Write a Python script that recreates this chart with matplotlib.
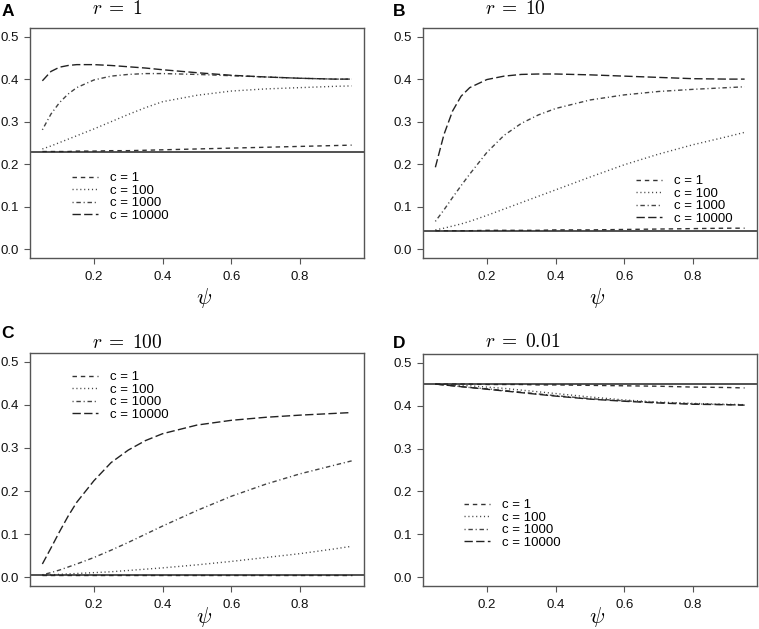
import matplotlib
matplotlib.use("Agg")
import matplotlib.pyplot as plt

plt.rcParams['font.family'] = ['Liberation Sans', 'DejaVu Sans']
plt.rcParams['mathtext.fontset'] = 'cm'

psi = [0.05, 0.075, 0.1, 0.125, 0.15, 0.2, 0.25, 0.3, 0.35, 0.4, 0.5, 0.6, 0.7, 0.8, 0.9, 0.95]
labels = ["c = 1", "c = 100", "c = 1000", "c = 10000"]

# Panel A (r = 1)
a_ref = 0.230
a_c1 = [0.230, 0.230, 0.230, 0.230, 0.231, 0.231, 0.232, 0.232, 0.233, 0.234, 0.236, 0.238, 0.240, 0.242, 0.244, 0.245]
a_c100 = [0.236, 0.243, 0.251, 0.259, 0.267, 0.283, 0.300, 0.317, 0.333, 0.347, 0.362, 0.372, 0.377, 0.380, 0.383, 0.384]
a_c1000 = [0.281, 0.318, 0.345, 0.365, 0.380, 0.398, 0.407, 0.411, 0.413, 0.413, 0.411, 0.408, 0.405, 0.402, 0.400, 0.400]
a_c10000 = [0.396, 0.418, 0.428, 0.432, 0.434, 0.434, 0.432, 0.429, 0.426, 0.422, 0.415, 0.409, 0.405, 0.402, 0.400, 0.400]

# Panel B (r = 10)
b_ref = 0.044
b_c1 = [0.044, 0.044, 0.044, 0.044, 0.044, 0.045, 0.045, 0.045, 0.045, 0.046, 0.046, 0.047, 0.048, 0.049, 0.050, 0.050]
b_c100 = [0.046, 0.050, 0.055, 0.060, 0.066, 0.080, 0.095, 0.110, 0.125, 0.140, 0.170, 0.199, 0.224, 0.246, 0.265, 0.275]
b_c1000 = [0.066, 0.093, 0.122, 0.150, 0.177, 0.228, 0.268, 0.296, 0.316, 0.331, 0.351, 0.363, 0.371, 0.376, 0.380, 0.382]
b_c10000 = [0.193, 0.270, 0.325, 0.360, 0.380, 0.399, 0.407, 0.411, 0.412, 0.412, 0.410, 0.407, 0.404, 0.401, 0.400, 0.400]

# Panel C (r = 100)
c_ref = 0.005
c_c1 = [0.005, 0.005, 0.005, 0.005, 0.005, 0.005, 0.005, 0.005, 0.005, 0.005, 0.005, 0.005, 0.005, 0.005, 0.005, 0.005]
c_c100 = [0.005, 0.006, 0.007, 0.008, 0.009, 0.011, 0.013, 0.016, 0.019, 0.022, 0.029, 0.037, 0.046, 0.055, 0.066, 0.072]
c_c1000 = [0.006, 0.011, 0.017, 0.024, 0.031, 0.046, 0.063, 0.081, 0.100, 0.119, 0.155, 0.188, 0.216, 0.240, 0.260, 0.270]
c_c10000 = [0.031, 0.068, 0.106, 0.142, 0.174, 0.224, 0.266, 0.295, 0.317, 0.333, 0.353, 0.364, 0.371, 0.376, 0.380, 0.382]

# Panel D (r = 0.01)
d_ref = 0.450
d_c1 = [0.450, 0.450, 0.450, 0.450, 0.450, 0.449, 0.449, 0.449, 0.448, 0.448, 0.447, 0.446, 0.445, 0.443, 0.442, 0.441]
d_c100 = [0.450, 0.449, 0.448, 0.447, 0.446, 0.443, 0.440, 0.436, 0.432, 0.428, 0.420, 0.413, 0.408, 0.405, 0.403, 0.402]
d_c1000 = [0.450, 0.448, 0.446, 0.444, 0.442, 0.439, 0.435, 0.431, 0.427, 0.423, 0.416, 0.411, 0.407, 0.404, 0.402, 0.401]
d_c10000 = [0.450, 0.448, 0.446, 0.444, 0.442, 0.438, 0.434, 0.430, 0.426, 0.422, 0.415, 0.410, 0.406, 0.403, 0.402, 0.401]

panels = [
    dict(letter="A", title=r"$r\;=\;1$", ref=a_ref, series=[a_c1, a_c100, a_c1000, a_c10000],
         box=(30, 28, 364, 258), leg=(72, 172), letter_xy=(2, 16), title_base=14, psi_y=298),
    dict(letter="B", title=r"$r\;=\;10$", ref=b_ref, series=[b_c1, b_c100, b_c1000, b_c10000],
         box=(423, 28, 757, 258), leg=(636, 175), letter_xy=(393, 16), title_base=14, psi_y=298),
    dict(letter="C", title=r"$r\;=\;100$", ref=c_ref, series=[c_c1, c_c100, c_c1000, c_c10000],
         box=(30, 353, 364, 586), leg=(72, 371), letter_xy=(1, 338), title_base=348, psi_y=617),
    dict(letter="D", title=r"$r\;=\;0.01$", ref=d_ref, series=[d_c1, d_c100, d_c1000, d_c10000],
         box=(423, 354, 757, 586), leg=(464, 499), letter_xy=(393, 348), title_base=347, psi_y=617),
]

styles = [(0, (3.2, 2.8)), (0, (0.8, 2.0)), (0, (0.8, 2.0, 3.2, 2.0)), (0, (6.0, 2.4))]
colors = ["#333333", "#444444", "#444444", "#222222"]

W, H = 759, 629
fig = plt.figure(figsize=(W / 100, H / 100), dpi=100)
frame_col = "#555555"

for p in panels:
    l, t, r, b = p["box"]
    ax = fig.add_axes([l / W, 1 - b / H, (r - l) / W, (b - t) / H])
    handles = []
    for s, ls, col, lab in zip(p["series"], styles, colors, labels):
        h, = ax.plot(psi, s, linestyle=ls, color=col, lw=1.0, label=lab)
        handles.append(h)
    ax.axhline(p["ref"], color="#222222", lw=1.1)
    ax.set_xlim(0.014, 0.986)
    ax.set_ylim(-0.02, 0.52)
    ax.set_xticks([0.2, 0.4, 0.6, 0.8])
    ax.set_xticklabels(["0.2", "0.4", "0.6", "0.8"])
    ax.set_yticks([0.0, 0.1, 0.2, 0.3, 0.4, 0.5])
    ax.set_yticklabels(["0.0", "0.1", "0.2", "0.3", "0.4", "0.5"])
    ax.tick_params(direction="out", length=4.5, width=0.8, color=frame_col, labelsize=9.5,
                   labelcolor="#111111")
    ax.tick_params(axis="x", pad=5)
    ax.tick_params(axis="y", pad=3.5)
    for sp in ax.spines.values():
        sp.set_color(frame_col)
        sp.set_linewidth(1.0)
    fig.text(((l + r) / 2 + 7) / W, 1 - p["psi_y"] / H, r"$\psi$", fontsize=16,
             ha="center", va="center")
    lx, ly = p["leg"]
    ax.legend(handles=handles, loc="upper left",
              bbox_to_anchor=(lx / W, 1 - ly / H), bbox_transform=fig.transFigure,
              frameon=False, fontsize=9.5, handlelength=2.0, handletextpad=0.9,
              labelspacing=0.02, borderpad=0, borderaxespad=0)
    fig.text(p["letter_xy"][0] / W, 1 - p["letter_xy"][1] / H, p["letter"],
             fontsize=12.5, fontweight="bold", ha="left", va="baseline")
    fig.text((l + 62) / W, 1 - p["title_base"] / H, p["title"], fontsize=14,
             ha="left", va="baseline")

fig.savefig("out.png", dpi=100)
